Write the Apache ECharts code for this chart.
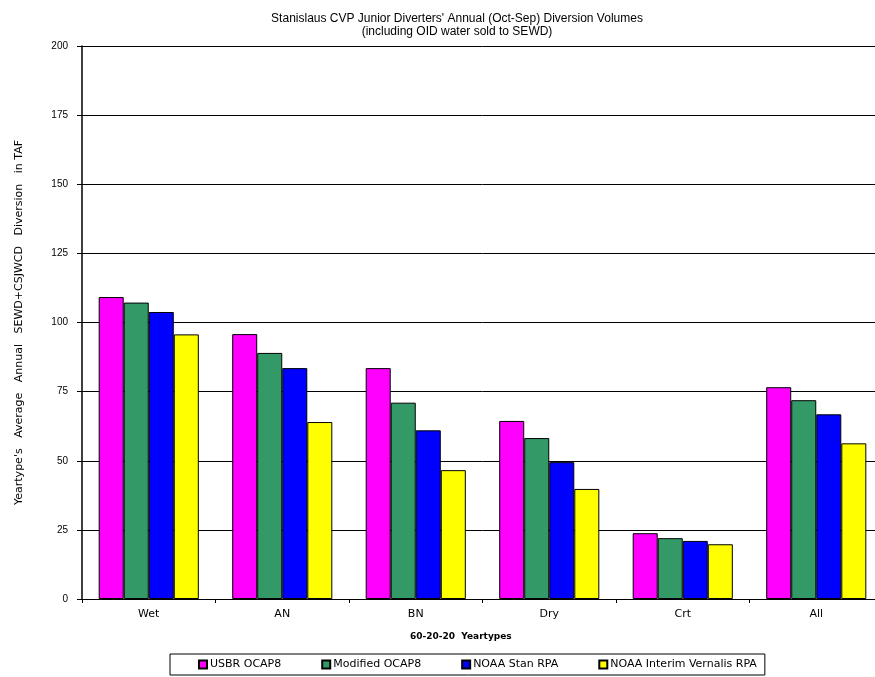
<!DOCTYPE html>
<html>
<head>
<meta charset="utf-8">
<script src="https://cdn.jsdelivr.net/npm/echarts@6/dist/echarts.min.js"></script>
<style>
  html, body { margin: 0; padding: 0; background: #fff; overflow: hidden; }
  #main { width: 883px; height: 677px; }
</style>
</head>
<body>
<div id="main"></div>
<script>
// yeartypes (60-20-20)
var categories = ["Wet", "AN", "BN", "Dry", "Crt", "All"];
var usbrOcap8 = [109.2, 95.8, 83.5, 64.4, 23.8, 76.6];
var modifiedOcap8 = [107.2, 89.0, 71.0, 58.2, 22.0, 71.9];
var noaaStanRpa = [103.8, 83.5, 61.0, 49.5, 21.0, 66.8];
var noaaVernalisRpa = [95.7, 64.0, 46.6, 39.8, 19.8, 56.3];

var seriesNames = ["USBR OCAP8", "Modified OCAP8", "NOAA Stan RPA", "NOAA Interim Vernalis RPA"];
var seriesColors = ["#ff00ff", "#339966", "#0000ff", "#ffff00"];
var seriesData = [usbrOcap8, modifiedOcap8, noaaStanRpa, noaaVernalisRpa];

// plot runs a little past the right edge of the window, like the original
var chart = echarts.init(document.getElementById("main"));

var series = seriesNames.map(function (name, i) {
    return {
        name: name,
        type: "bar",
        data: seriesData[i],
        barGap: "0%",
        barCategoryGap: "25%",
        itemStyle: { color: seriesColors[i], borderColor: "#000", borderWidth: 1 }
    };
});

chart.setOption({
    backgroundColor: "#fff",
    animation: false,
    title: {
        text: "Stanislaus CVP Junior Diverters' Annual (Oct-Sep) Diversion Volumes\n(including OID water sold to SEWD)",
        left: 452,
        top: 7,
        textAlign: "center",
        textStyle: { fontFamily: "Liberation Sans", fontSize: 12, fontWeight: "normal", color: "#000", lineHeight: 13 }
    },
    legend: {
        data: seriesNames,
        left: 170,
        top: 654,
        padding: [5, 8, 5, 28],
        itemGap: 40,
        itemWidth: 8,
        itemHeight: 8,
        icon: "rect",
        borderColor: "#000",
        borderWidth: 1,
        textStyle: { fontFamily: "DejaVu Sans", fontSize: 11, color: "#000", padding: [0, 0, 0, -2] }
    },
    graphic: [{
        type: "text",
        left: 410,
        top: 632,
        style: { text: "60-20-20  Yeartypes", font: "bold 9px 'DejaVu Sans'", fill: "#000" }
    }],
    grid: { left: 82, right: 0, top: 46, bottom: 78 },
    xAxis: {
        type: "category",
        data: categories,
        axisLine: { lineStyle: { color: "#000", width: 1 } },
        axisTick: { show: true, length: 4, lineStyle: { color: "#000" } },
        axisLabel: { fontFamily: "DejaVu Sans", fontSize: 11, color: "#000", margin: 10 }
    },
    yAxis: {
        type: "value",
        min: 0,
        max: 200,
        interval: 25,
        name: "Yeartype's   Average   Annual   SEWD+CSJWCD   Diversion   in TAF",
        nameLocation: "middle",
        nameGap: 57,
        nameTextStyle: { fontFamily: "DejaVu Sans", fontSize: 11, color: "#000" },
        axisLine: { show: true, lineStyle: { color: "#000", width: 1.5 } },
        axisTick: { show: true, inside: false, length: 5, lineStyle: { color: "#000" } },
        axisLabel: { fontFamily: "Liberation Sans", fontSize: 10, color: "#000", margin: 14 },
        splitLine: { show: true, lineStyle: { color: "#000", width: 1 } }
    },
    series: series
});
</script>
</body>
</html>
